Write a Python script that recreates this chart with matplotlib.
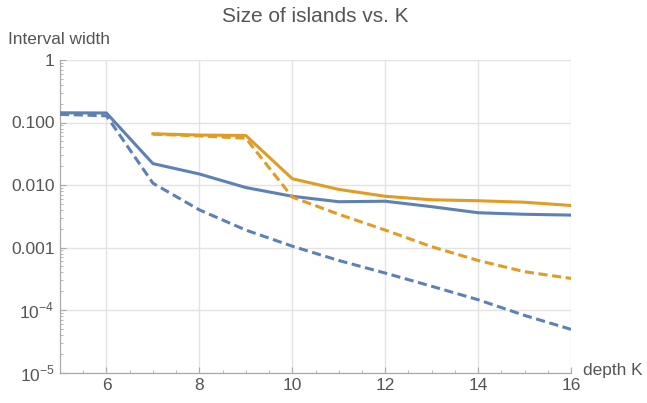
import matplotlib
matplotlib.use("Agg")
import matplotlib.pyplot as plt
import matplotlib.ticker as mticker
import numpy as np

plt.rcParams.update({
    "font.family": ["Liberation Sans", "DejaVu Sans"],
    "mathtext.fontset": "custom",
    "mathtext.rm": "Liberation Sans",
})

# ── data ──
depth = [5, 6, 7, 8, 9, 10, 11, 12, 13, 14, 15, 16]
blue_solid = [0.143, 0.142, 0.022, 0.015, 0.0091, 0.0066, 0.0054, 0.0055,
              0.0045, 0.0036, 0.0034, 0.0033]
blue_dashed = [0.135, 0.128, 0.0107, 0.0040, 0.0019, 0.00105, 0.00062,
               0.00039, 0.00024, 0.000146, 0.000082, 0.000049]

depth_o = [7, 8, 9, 10, 11, 12, 13, 14, 15, 16]
orange_solid = [0.066, 0.063, 0.062, 0.0126, 0.0085, 0.0066, 0.0058,
                0.0056, 0.0053, 0.0047]
orange_dashed = [0.065, 0.061, 0.056, 0.0064, 0.0034, 0.0019, 0.00103,
                 0.00062, 0.00041, 0.00032]

blue = "#5E81B5"
orange = "#E19C24"
txt = "#555555"
dash = (0, (3.0, 1.5))

fig = plt.figure(figsize=(6.47, 4.03), dpi=100)
ax = fig.add_axes([60 / 647, 1 - 372.5 / 403, 511 / 647, 312.5 / 403])

ax.plot(depth, blue_solid, color=blue, lw=2.2, zorder=3)
ax.plot(depth, blue_dashed, color=blue, lw=2.2, ls=dash, zorder=3)
ax.plot(depth_o, orange_solid, color=orange, lw=2.2, zorder=3)
ax.plot(depth_o, orange_dashed, color=orange, lw=2.2, ls=dash, zorder=3)

ax.set_yscale("log")
ax.set_xlim(5, 16)
ax.set_ylim(1e-5, 1)

ax.xaxis.set_major_locator(mticker.FixedLocator([6, 8, 10, 12, 14, 16]))
ax.xaxis.set_minor_locator(mticker.MultipleLocator(0.5))
ax.yaxis.set_major_locator(mticker.FixedLocator([1e-5, 1e-4, 1e-3, 1e-2, 1e-1, 1]))
ax.yaxis.set_minor_locator(mticker.LogLocator(base=10, subs=np.arange(2, 10)))
ax.yaxis.set_minor_formatter(mticker.NullFormatter())
ax.set_yticklabels([r"$10^{-5}$", r"$10^{-4}$", "0.001", "0.010", "0.100", "1"])

ax.grid(True, which="major", color="#E3E3E3", lw=1.0, zorder=0)
for side in ("top", "right"):
    ax.spines[side].set_visible(False)
for side in ("left", "bottom"):
    ax.spines[side].set_color("#AAAAAA")
    ax.spines[side].set_linewidth(0.9)

ax.tick_params(axis="both", which="major", direction="in", length=4,
               color="#AAAAAA", labelsize=12.5, labelcolor=txt, pad=4)
ax.tick_params(axis="both", which="minor", direction="in", length=2,
               color="#AAAAAA")

fig.text(315 / 647, 1 - 16 / 403, "Size of islands vs. K", fontsize=15,
         color=txt, ha="center", va="center")
fig.text(8 / 647, 1 - 40 / 403, "Interval width", fontsize=12.4, color=txt,
         va="center", ha="left")
fig.text(583 / 647, 1 - 371 / 403, "depth K", fontsize=12.4, color=txt,
         va="center", ha="left")

fig.savefig("out.png", dpi=100)
